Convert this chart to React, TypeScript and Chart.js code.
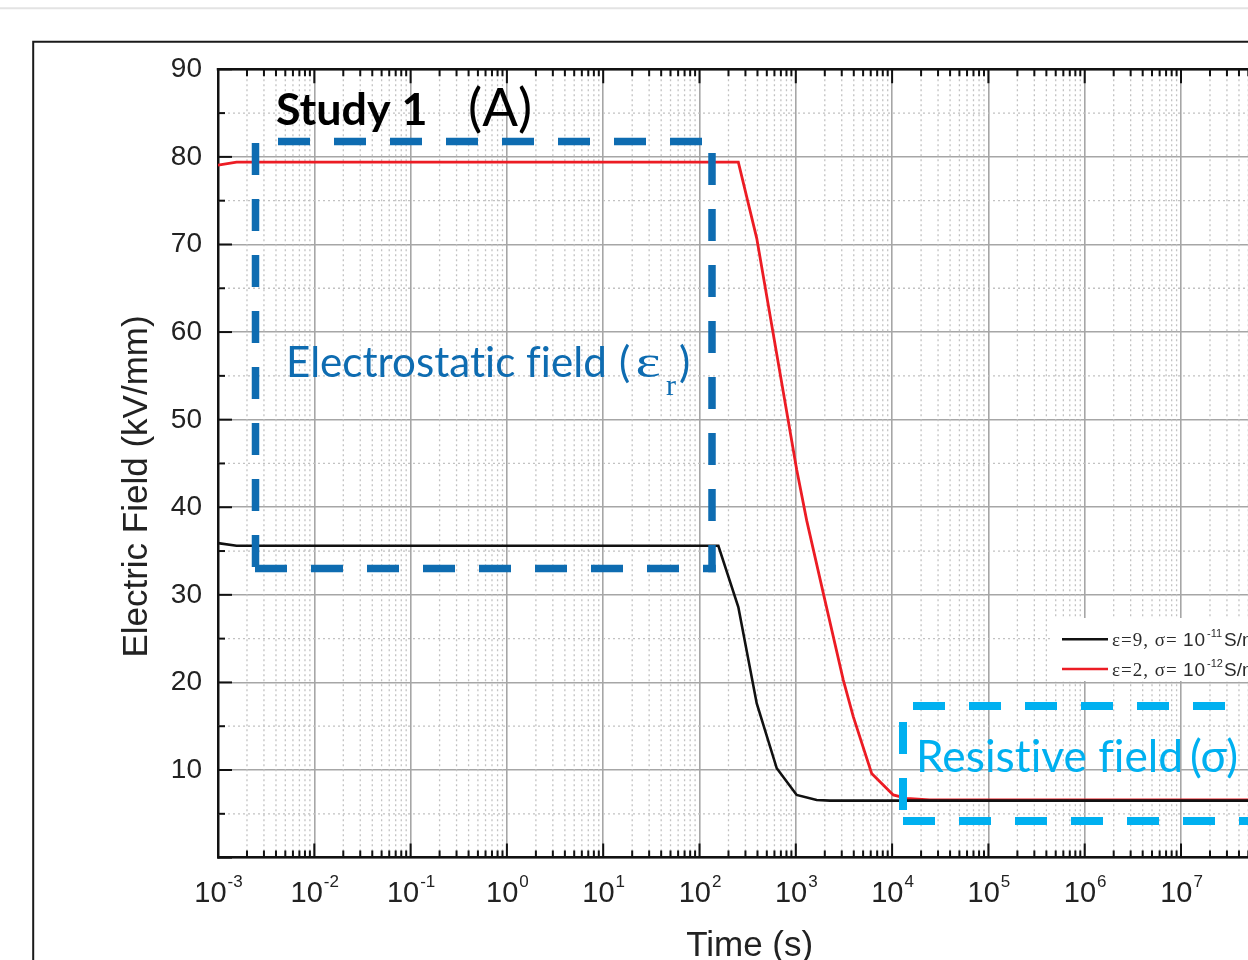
import React, { useEffect, useRef } from 'react';
import { Chart, registerables } from 'chart.js';

Chart.register(...registerables);

// ---- data ----
const BLACK_TIME = [1e-3, 1.56e-3, 157, 253, 393, 634, 1021, 1648, 2265, 1e8];
const BLACK_FIELD = [35.9, 35.6, 35.6, 28.6, 17.6, 10.2, 7.15, 6.58, 6.5, 6.5];

const RED_TIME = [1e-3, 1.56e-3, 253, 393, 1021, 1297, 1929, 3110, 3952, 6134, 10280, 14160, 24500, 1e8];
const RED_FIELD = [79.05, 79.4, 79.4, 70.7, 44.3, 38.5, 30.2, 20.3, 16.1, 9.6, 7.15, 6.77, 6.6, 6.6];

const X_DECADE_EXPONENTS = [-3, -2, -1, 0, 1, 2, 3, 4, 5, 6, 7, 8];
const X_MINOR_MULTIPLIERS = [2, 3, 4, 5, 6, 7, 8, 9];
const Y_TICKS = [10, 20, 30, 40, 50, 60, 70, 80, 90];
const Y_MINOR_TICKS = [5, 15, 25, 35, 45, 55, 65, 75, 85];

const LEGEND_EPS = ['ε=9, σ=', 'ε=2, σ='];
const LEGEND_SIGMA_EXP = ['-11', '-12'];
const SERIES_COLORS = ['#111111', '#ec1c24'];

const X_TITLE = 'Time (s)';
const Y_TITLE = 'Electric Field (kV/mm)';
const STUDY_TEXT = 'Study 1';
const PANEL_TEXT = '(A)';
const ELECTRO_TEXT = 'Electrostatic field';
const RESIST_TEXT = 'Resistive field';

const CANVAS_W = 1320;
const CANVAS_H = 960;
const DARK_BLUE = '#0e6cb1';
const LIGHT_BLUE = '#00b0f0';
const SANS = 'Lato, "Open Sans", sans-serif';

function inkText(ctx: CanvasRenderingContext2D, text: string, weight: string, family: string, inkLeft: number, inkWidth: number, baseline: number) {
  ctx.font = `${weight} 100px ${family}`;
  const m = ctx.measureText(text);
  const w100 = m.actualBoundingBoxLeft + m.actualBoundingBoxRight;
  const size = (100 * inkWidth) / w100;
  ctx.font = `${weight} ${size}px ${family}`;
  const m2 = ctx.measureText(text);
  const x = inkLeft + m2.actualBoundingBoxLeft;
  ctx.fillText(text, x, baseline);
  return { size, end: x + m2.width };
}

function dashed(ctx: CanvasRenderingContext2D, x1: number, y1: number, x2: number, y2: number, offset: number) {
  ctx.lineDashOffset = offset;
  ctx.beginPath();
  ctx.moveTo(x1, y1);
  ctx.lineTo(x2, y2);
  ctx.stroke();
}

const overlay = {
  id: 'overlay',
  beforeDraw(chart: any) {
    const ctx: CanvasRenderingContext2D = chart.ctx;
    ctx.save();
    ctx.fillStyle = '#ffffff';
    ctx.fillRect(0, 0, chart.width, chart.height);
    ctx.strokeStyle = '#e3e3e3';
    ctx.lineWidth = 2;
    ctx.beginPath();
    ctx.moveTo(0, 8.3);
    ctx.lineTo(chart.width, 8.3);
    ctx.stroke();
    ctx.strokeStyle = '#1a1a1a';
    ctx.lineWidth = 2;
    ctx.beginPath();
    ctx.moveTo(chart.width + 5, 41.7);
    ctx.lineTo(33.2, 41.7);
    ctx.lineTo(33.2, chart.height + 5);
    ctx.stroke();
    ctx.restore();
  },
  beforeDatasetsDraw(chart: any) {
    const ctx: CanvasRenderingContext2D = chart.ctx;
    const { left, right, top, bottom } = chart.chartArea;
    const xs = chart.scales.x;
    const ys = chart.scales.y;
    ctx.save();
    ctx.strokeStyle = '#c2c2c2';
    ctx.lineWidth = 1.3;
    ctx.setLineDash([2, 3]);
    X_DECADE_EXPONENTS.forEach((e) => {
      X_MINOR_MULTIPLIERS.forEach((m) => {
        const v = m * Math.pow(10, e);
        if (v > xs.max) return;
        const px = xs.getPixelForValue(v);
        ctx.beginPath();
        ctx.moveTo(px, top);
        ctx.lineTo(px, bottom);
        ctx.stroke();
      });
    });
    Y_MINOR_TICKS.forEach((v) => {
      const py = ys.getPixelForValue(v);
      ctx.beginPath();
      ctx.moveTo(left, py);
      ctx.lineTo(right, py);
      ctx.stroke();
    });
    ctx.restore();
  },
  afterDatasetsDraw(chart: any) {
    const ctx: CanvasRenderingContext2D = chart.ctx;
    const { left, right, top, bottom } = chart.chartArea;
    const xs = chart.scales.x;
    const ys = chart.scales.y;
    ctx.save();
    // top border
    ctx.strokeStyle = '#111';
    ctx.lineWidth = 2.5;
    ctx.beginPath();
    ctx.moveTo(left - 1.25, top);
    ctx.lineTo(right, top);
    ctx.stroke();
    // ticks
    ctx.lineWidth = 2;
    const vTick = (px: number, len: number) => {
      ctx.beginPath();
      ctx.moveTo(px, bottom);
      ctx.lineTo(px, bottom - len);
      ctx.moveTo(px, top);
      ctx.lineTo(px, top + len);
      ctx.stroke();
    };
    X_DECADE_EXPONENTS.forEach((e) => {
      vTick(xs.getPixelForValue(Math.pow(10, e)), 14);
      X_MINOR_MULTIPLIERS.forEach((m) => {
        const v = m * Math.pow(10, e);
        if (v <= xs.max) vTick(xs.getPixelForValue(v), 7);
      });
    });
    [0, ...Y_TICKS].forEach((v) => {
      const py = ys.getPixelForValue(v);
      ctx.beginPath();
      ctx.moveTo(left, py);
      ctx.lineTo(left + 14, py);
      ctx.stroke();
    });
    Y_MINOR_TICKS.forEach((v) => {
      const py = ys.getPixelForValue(v);
      ctx.beginPath();
      ctx.moveTo(left, py);
      ctx.lineTo(left + 7, py);
      ctx.stroke();
    });

    // y tick labels
    ctx.fillStyle = '#222';
    ctx.font = '28px "Liberation Sans", Arial, sans-serif';
    ctx.textAlign = 'right';
    ctx.textBaseline = 'alphabetic';
    Y_TICKS.forEach((v) => {
      ctx.fillText(String(v), left - 16, ys.getPixelForValue(v) + 8);
    });

    // x tick labels 10^n
    ctx.textAlign = 'left';
    X_DECADE_EXPONENTS.forEach((e) => {
      const px = xs.getPixelForValue(Math.pow(10, e));
      ctx.font = '29px "Liberation Sans", Arial, sans-serif';
      const wBase = ctx.measureText('10').width;
      ctx.font = '17px "Liberation Sans", Arial, sans-serif';
      const exp = String(e);
      const wExp = ctx.measureText(exp).width;
      const x0 = px - (wBase + wExp) / 2;
      ctx.font = '29px "Liberation Sans", Arial, sans-serif';
      ctx.fillText('10', x0, 902);
      ctx.font = '17px "Liberation Sans", Arial, sans-serif';
      ctx.fillText(exp, x0 + wBase + 1, 887);
    });

    // axis titles
    ctx.font = '35px "Liberation Sans", Arial, sans-serif';
    ctx.textAlign = 'center';
    ctx.fillText(X_TITLE, (left + right) / 2 + 2, 956);
    ctx.save();
    ctx.translate(147, 486.5);
    ctx.rotate(-Math.PI / 2);
    ctx.fillText(Y_TITLE, 0, 0);
    ctx.restore();

    // legend
    ctx.fillStyle = '#ffffff';
    ctx.fillRect(1050, 618, 300, 63);
    ctx.textAlign = 'left';
    chart.data.datasets.forEach((ds: any, i: number) => {
      const ly = 639.3 + i * 29.7;
      const by = 646 + i * 30;
      ctx.strokeStyle = SERIES_COLORS[i];
      ctx.lineWidth = 2.6;
      ctx.beginPath();
      ctx.moveTo(1062, ly);
      ctx.lineTo(1108, ly);
      ctx.stroke();
      ctx.fillStyle = '#2a2a2a';
      (ctx as any).letterSpacing = '1px';
      ctx.font = '19px "Liberation Serif", "Times New Roman", serif';
      ctx.fillText(LEGEND_EPS[i], 1112, by);
      ctx.font = '19px "Liberation Sans", Arial, sans-serif';
      ctx.fillText('10', 1183, by);
      (ctx as any).letterSpacing = '0px';
      ctx.font = '11px "Liberation Sans", Arial, sans-serif';
      ctx.fillText(LEGEND_SIGMA_EXP[i], 1207, by - 9);
      ctx.font = '19px "Liberation Sans", Arial, sans-serif';
      ctx.fillText('S/m', 1224, by);
    });
    ctx.restore();
  },
  afterDraw(chart: any) {
    const ctx: CanvasRenderingContext2D = chart.ctx;
    ctx.save();
    ctx.textAlign = 'left';
    ctx.textBaseline = 'alphabetic';
    (ctx as any).letterSpacing = '0.01px';

    // Study 1 (A)
    ctx.fillStyle = '#000';
    inkText(ctx, STUDY_TEXT, 'bold', SANS, 277, 148, 124.5);
    inkText(ctx, PANEL_TEXT, 'normal', SANS, 470, 60, 126);

    // dark blue dashed box
    ctx.strokeStyle = DARK_BLUE;
    ctx.lineWidth = 7.5;
    ctx.lineCap = 'butt';
    ctx.setLineDash([32, 24]);
    const L = 255.5, R = 712, T = 141.5, B = 568.5;
    dashed(ctx, L, T, R, T, 33.5);
    dashed(ctx, L, T, L, B + 3.75, 54.5);
    dashed(ctx, L - 0.5, B, R + 3.75, B, 0);
    dashed(ctx, R, T, R, B + 3.75, 44.5);

    // Electrostatic text
    ctx.setLineDash([]);
    ctx.fillStyle = DARK_BLUE;
    const res = inkText(ctx, ELECTRO_TEXT, 'normal', SANS, 289, 314, 377);
    ctx.font = `normal ${res.size}px ${SANS}`;
    ctx.fillText('(', 619, 377);
    ctx.save();
    ctx.translate(635.5, 377);
    ctx.scale(1.3, 1);
    ctx.font = '46px "Liberation Serif", "Times New Roman", serif';
    ctx.fillText('ε', 0, 0);
    ctx.restore();
    ctx.font = '30px "Liberation Serif", "Times New Roman", serif';
    ctx.fillText('r', 666, 395);
    ctx.font = `normal ${res.size}px ${SANS}`;
    ctx.fillText(')', 679, 377);

    // light blue dashed box
    ctx.strokeStyle = LIGHT_BLUE;
    ctx.lineWidth = 8;
    ctx.setLineDash([32, 24]);
    const L2 = 903, T2 = 706, B2 = 821, R2 = 1300;
    dashed(ctx, L2, T2, R2, T2, 46);
    dashed(ctx, L2, T2, L2, B2, 40);
    dashed(ctx, L2, B2, R2, B2, 0);

    ctx.setLineDash([]);
    ctx.fillStyle = LIGHT_BLUE;
    const res2 = inkText(ctx, RESIST_TEXT, 'normal', SANS, 920, 260, 772);
    ctx.font = `normal ${res2.size}px ${SANS}`;
    ctx.fillText('(σ)', 1190, 772);
    ctx.restore();
  },
};

export default function App() {
  const canvasRef = useRef<HTMLCanvasElement | null>(null);

  useEffect(() => {
    const canvas = canvasRef.current;
    if (!canvas) return;
    const chart = new Chart(canvas, {
      type: 'line',
      data: {
        datasets: [
          {
            label: 'ε=9, σ=10^-11 S/m',
            data: BLACK_TIME.map((t, i) => ({ x: t, y: BLACK_FIELD[i] })),
            borderColor: SERIES_COLORS[0],
            borderWidth: 2.6,
            pointRadius: 0,
            tension: 0,
            fill: false,
          },
          {
            label: 'ε=2, σ=10^-12 S/m',
            data: RED_TIME.map((t, i) => ({ x: t, y: RED_FIELD[i] })),
            borderColor: SERIES_COLORS[1],
            borderWidth: 2.8,
            pointRadius: 0,
            tension: 0,
            fill: false,
          },
        ],
      },
      options: {
        responsive: false,
        animation: false,
        devicePixelRatio: 1,
        layout: { padding: { left: 218, top: 69.3, right: CANVAS_W - 1277.3, bottom: CANVAS_H - 857.6 } },
        plugins: { legend: { display: false }, tooltip: { enabled: false } },
        scales: {
          x: {
            type: 'logarithmic',
            min: 1e-3,
            max: 1e8,
            afterBuildTicks: (scale: any) => {
              scale.ticks = X_DECADE_EXPONENTS.map((e) => ({ value: Math.pow(10, e) }));
            },
            ticks: { display: false },
            grid: { color: '#a6a6a6', lineWidth: 1.6, drawTicks: false },
            border: { display: true, color: '#111', width: 2.5 },
          },
          y: {
            type: 'linear',
            min: 0,
            max: 90,
            ticks: { display: false, stepSize: 10 },
            grid: { color: '#a6a6a6', lineWidth: 1.6, drawTicks: false },
            border: { display: true, color: '#111', width: 2.5 },
          },
        },
      } as any,
      plugins: [overlay as any],
    });
    return () => chart.destroy();
  }, []);

  return (
    <div style={{ position: 'fixed', left: 0, top: 0, width: 1248, height: 960, overflow: 'hidden', background: '#fff' }}>
      <canvas ref={canvasRef} width={CANVAS_W} height={CANVAS_H} style={{ display: 'block' }} />
    </div>
  );
}
